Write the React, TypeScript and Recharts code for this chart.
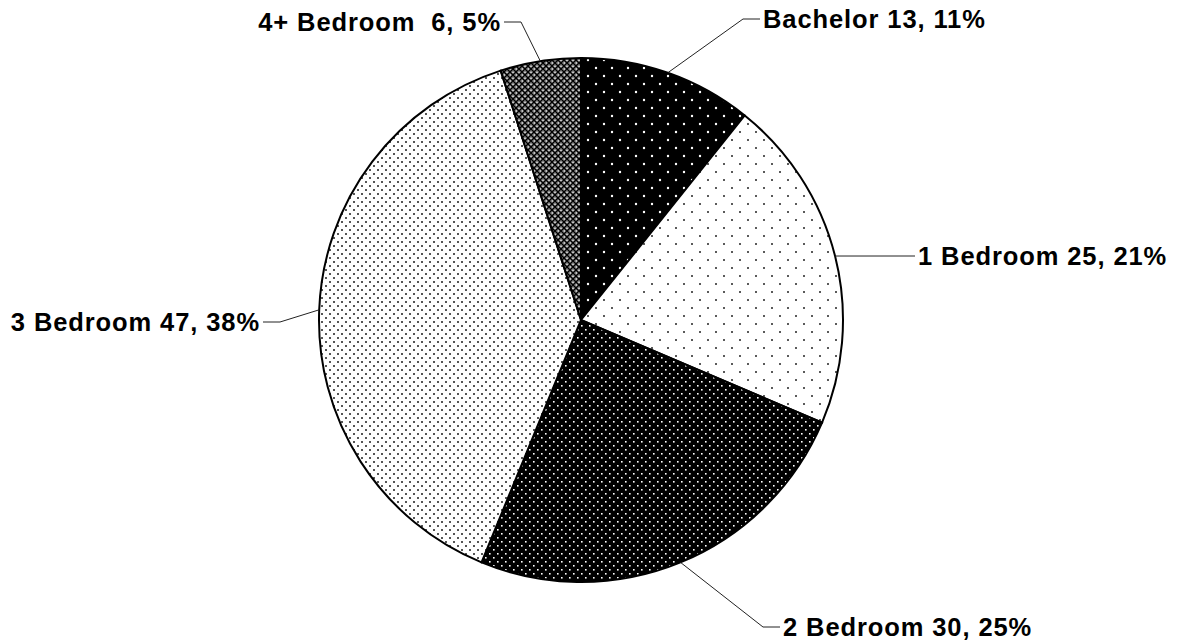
import { PieChart, Pie, Cell } from 'recharts'

const categories = ['Bachelor', '1 Bedroom', '2 Bedroom', '3 Bedroom', '4+ Bedroom']
const counts = [13, 25, 30, 47, 6]
const percents = ['11%', '21%', '25%', '38%', '5%']
const labelTexts = ['Bachelor 13, 11%', '1 Bedroom 25, 21%', '2 Bedroom 30, 25%', '3 Bedroom 47, 38%', '4+ Bedroom  6, 5%']

// label elbow offsets from pie centre, and which side the text sits on
const labelElbows = [
  { dx: 162, dy: -301, side: 1 },
  { dx: 317, dy: -64, side: 1 },
  { dx: 182, dy: 307, side: 1 },
  { dx: -301, dy: 2, side: -1 },
  { dx: -60, dy: -298, side: -1 },
]
const fills = ['url(#pBach)', 'url(#p1br)', 'url(#p2br)', 'url(#p3br)', 'url(#p4br)']

const data = categories.map((name, i) => ({ name, value: counts[i], pct: percents[i] }))

const RAD = Math.PI / 180

function renderLabel(props: any) {
  const { cx, cy, midAngle, outerRadius, index } = props
  const ex = cx + outerRadius * Math.cos(-midAngle * RAD)
  const ey = cy + outerRadius * Math.sin(-midAngle * RAD)
  const el = labelElbows[index]
  const bx = cx + el.dx
  const by = cy + el.dy
  const hx = bx + el.side * 17
  return (
    <g key={`lbl-${index}`}>
      <polyline points={`${ex},${ey} ${bx},${by} ${hx},${by}`} fill="none" stroke="#222" strokeWidth={1} />
      <text
        x={hx + el.side * 3}
        y={by}
        dy="0.35em"
        textAnchor={el.side > 0 ? 'start' : 'end'}
        fontFamily="Liberation Sans, Arial, sans-serif"
        fontWeight="bold"
        fontSize={25.5}
        letterSpacing={0.9}
        fill="#000"
        style={{ whiteSpace: 'pre' }}
      >
        {labelTexts[index]}
      </text>
    </g>
  )
}

function Patterns() {
  return (
    <svg width={0} height={0} style={{ position: 'absolute' }}>
      <defs>
        <pattern id="pBach" width={16} height={16} patternUnits="userSpaceOnUse">
          <rect width={16} height={16} fill="#000" />
          <circle cx={4} cy={4} r={1.2} fill="#fff" />
          <circle cx={12} cy={12} r={1.2} fill="#fff" />
        </pattern>
        <pattern id="p1br" width={16} height={16} patternUnits="userSpaceOnUse">
          <rect width={16} height={16} fill="#fff" />
          <circle cx={4} cy={4} r={1} fill="#222" />
          <circle cx={12} cy={12} r={1} fill="#222" />
        </pattern>
        <pattern id="p2br" width={8} height={8} patternUnits="userSpaceOnUse">
          <rect width={8} height={8} fill="#000" />
          <rect x={1} y={1} width={1.6} height={1.6} fill="#fff" />
          <rect x={5} y={5} width={1.6} height={1.6} fill="#fff" />
        </pattern>
        <pattern id="p3br" width={8} height={8} patternUnits="userSpaceOnUse">
          <rect width={8} height={8} fill="#fff" />
          <rect x={1} y={1} width={2} height={2} fill="#555" />
          <rect x={5} y={5} width={2} height={2} fill="#555" />
        </pattern>
        <pattern id="p4br" width={6} height={6} patternUnits="userSpaceOnUse">
          <rect width={6} height={6} fill="#8a8a8a" />
          <path d="M0,0 L6,6 M6,0 L0,6" stroke="#000" strokeWidth={1.3} />
          <rect x={2.5} y={0} width={1} height={1} fill="#fff" />
          <rect x={0} y={2.5} width={1} height={1} fill="#fff" />
        </pattern>
      </defs>
    </svg>
  )
}

export default function App() {
  return (
    <div style={{ position: 'absolute', left: 0, top: 0, width: 1185, height: 642, background: '#fff' }}>
      <Patterns />
      <PieChart width={1185} height={642} margin={{ top: 0, right: 0, bottom: 0, left: 0 }}>
        <Pie
          data={data}
          dataKey="value"
          nameKey="name"
          cx={581}
          cy={320}
          outerRadius={262}
          startAngle={90}
          endAngle={-270}
          stroke="#000"
          strokeWidth={2}
          label={renderLabel}
          labelLine={false}
          isAnimationActive={false}
        >
          {data.map((d, i) => (
            <Cell key={d.name} fill={fills[i]} />
          ))}
        </Pie>
      </PieChart>
    </div>
  )
}
